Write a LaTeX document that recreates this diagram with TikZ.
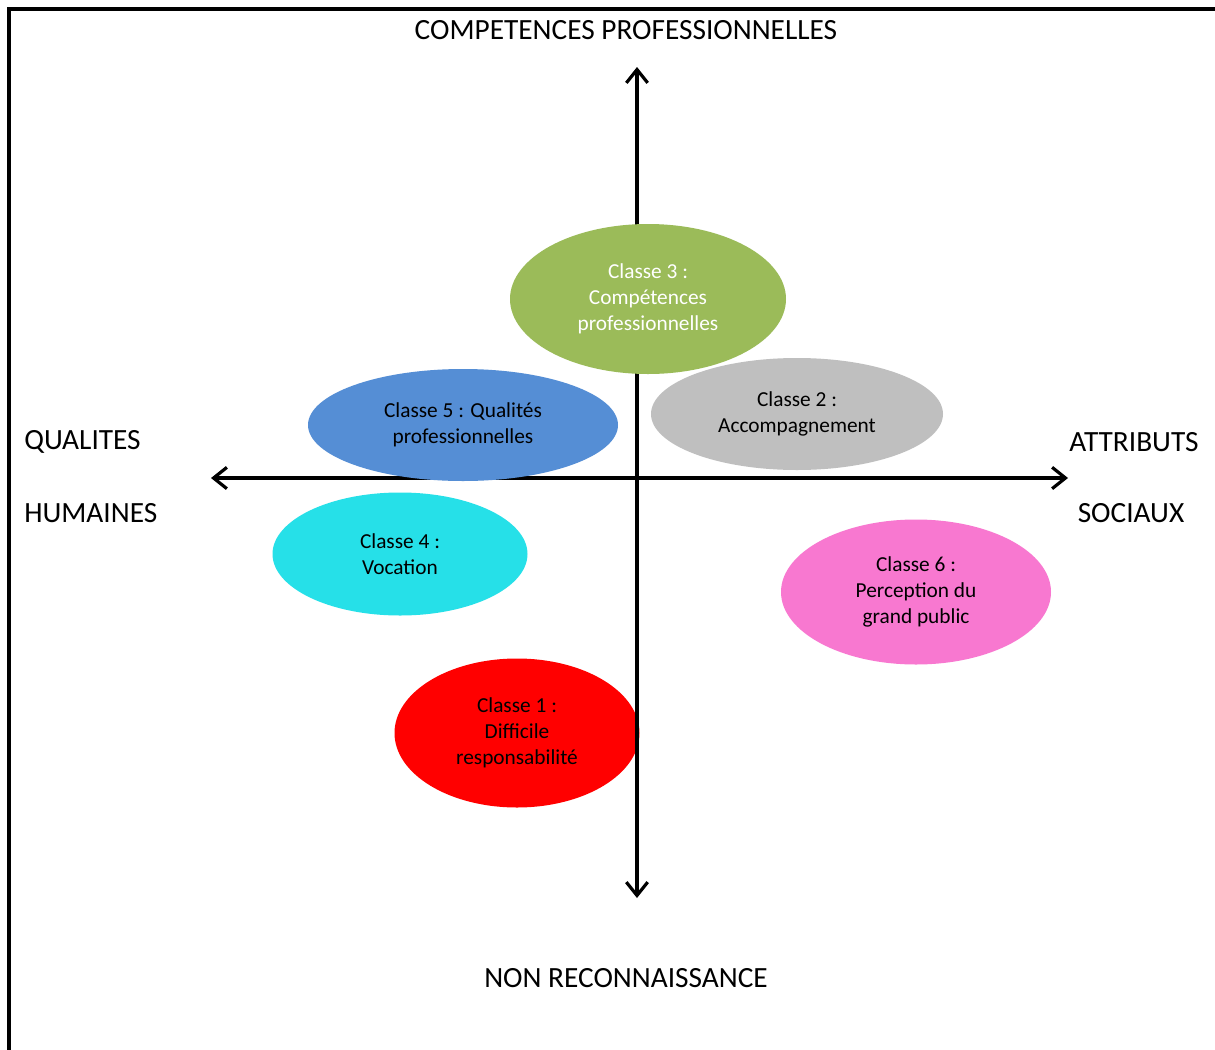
\documentclass[tikz,border=0pt]{standalone}
\usepackage{fontspec}
\setmainfont{Carlito}
\usetikzlibrary{shapes.geometric,arrows.meta}
\definecolor{cgreen}{HTML}{9BBB59}
\definecolor{cgray}{HTML}{BFBFBF}
\definecolor{cblue}{HTML}{558ED5}
\definecolor{ccyan}{HTML}{26E0E8}
\definecolor{cpink}{HTML}{F878D0}
\definecolor{cred}{HTML}{FF0000}
\begin{document}
\begin{tikzpicture}[x=0.75pt,y=-0.75pt,
  blob/.style={ellipse,draw=none,inner sep=0pt,align=center,
    font=\fontsize{16}{19.3}\selectfont},
  axlabel/.style={inner sep=0pt,font=\fontsize{22}{26}\selectfont},
  axis/.style={line width=2.4pt,{Straight Barb[length=10pt,width=16pt]}-{Straight Barb[length=10pt,width=16pt]}}]
\useasboundingbox (0,0) rectangle (1215,1050);
\fill[white] (0,0) rectangle (1215,1050);
% frame
\draw[line width=3pt] (9,1050) -- (9,9) -- (1215,9);

% ellipse under the vertical axis
\node[blob,fill=cred,minimum width=183.75pt,minimum height=111.75pt] (c1) at (517,733)
  {Classe 1 :\\Difficile\\responsabilité};

% axes
\coordinate (top) at (637,67);
\coordinate (bot) at (637,898);
\coordinate (lft) at (211,478);
\coordinate (rgt) at (1068,478);
\draw[axis] (bot) -- (top);
\draw[axis] (lft) -- (rgt);

% other ellipses
\node[blob,fill=cgreen,text=white,minimum width=207pt,minimum height=112.5pt] (c3) at (648,299)
  {Classe 3 :\\Compétences\\professionnelles};
\node[blob,fill=cgray,minimum width=219pt,minimum height=84pt] (c2) at (797,414)
  {Classe 2 :\\Accompagnement};
\node[blob,fill=cblue,minimum width=232.5pt,minimum height=84pt] (c5) at (463,425)
  {Classe 5 : Qualités\\professionnelles};
\node[blob,fill=ccyan,minimum width=191.25pt,minimum height=92.25pt] (c4) at (400,554)
  {Classe 4 :\\Vocation};
\node[blob,fill=cpink,minimum width=202.5pt,minimum height=108.75pt] (c6) at (916,592)
  {Classe 6 :\\Perception du\\grand public};

% axis labels
\node[axlabel] (ltop) at (626,30) {COMPETENCES PROFESSIONNELLES};
\node[axlabel] (lbot) at (626,978) {NON RECONNAISSANCE};
\node[axlabel,anchor=west] (lq) at (24,442) {QUALITES};
\node[axlabel,anchor=west] (lh) at (24,513) {HUMAINES};
\node[axlabel] (la) at (1134,442) {ATTRIBUTS};
\node[axlabel] (ls) at (1131,513) {SOCIAUX};
\end{tikzpicture}
\end{document}
